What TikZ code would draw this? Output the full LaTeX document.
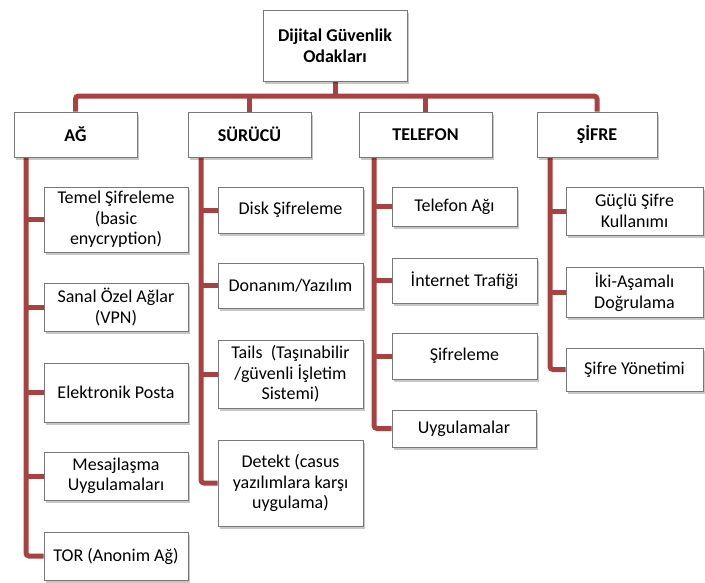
\documentclass[tikz,border=0pt]{standalone}
\usepackage{fontspec}
\setmainfont{Carlito}
\usetikzlibrary{shadows,backgrounds}
\definecolor{linkred}{RGB}{168,66,64}
\definecolor{boxgray}{RGB}{120,120,120}
\tikzset{
  box/.style={draw=boxgray, line width=0.8pt, fill=white, align=center, inner sep=1pt,
    font=\fontsize{18}{20.5}\selectfont,
    drop shadow={shadow xshift=2pt, shadow yshift=-2.5pt, fill=black, opacity=0.22}},
  headbox/.style={box, font=\fontsize{18}{20.5}\selectfont\bfseries},
  link/.style={draw=linkred, line width=5pt, rounded corners=3pt},
}
\begin{document}
\begin{tikzpicture}[x=1pt, y=-1pt]
\useasboundingbox (0,0) rectangle (705,582);
% root
\node[headbox, minimum width=144, minimum height=71] (root) at (335,45.5) {Dijital Güvenlik\\Odakları};
% level 1
\node[headbox, minimum width=123, minimum height=45] (ag) at (75.5,134.5) {AĞ};
\node[headbox, minimum width=123, minimum height=45] (surucu) at (249.5,134.5) {SÜRÜCÜ};
\node[headbox, minimum width=133, minimum height=45] (telefon) at (425.5,134.5) {TELEFON};
\node[headbox, minimum width=120, minimum height=45] (sifre) at (597,134.5) {ŞİFRE};
% AG children
\node[box, minimum width=144, minimum height=65] (temel) at (116,219.5) {Temel Şifreleme\\(basic\\enycryption)};
\node[box, minimum width=144, minimum height=48] (sanal) at (116,307) {Sanal Özel Ağlar\\(VPN)};
\node[box, minimum width=144, minimum height=59] (eposta) at (116,392.5) {Elektronik Posta};
\node[box, minimum width=144, minimum height=48] (mesaj) at (116,476) {Mesajlaşma\\Uygulamaları};
\node[box, minimum width=144, minimum height=48] (tor) at (116,556) {TOR (Anonim Ağ)};
% SURUCU children
\node[box, minimum width=145, minimum height=46] (disk) at (290.5,210) {Disk Şifreleme};
\node[box, minimum width=145, minimum height=45] (donanim) at (290.5,285.5) {Donanım/Yazılım};
\node[box, minimum width=145, minimum height=68] (tails) at (290.5,374) {Tails\ \ (Taşınabilir\\/güvenli İşletim\\Sistemi)};
\node[box, minimum width=145, minimum height=86] (detekt) at (290.5,483) {Detekt (casus\\yazılımlara karşı\\uygulama)};
% TELEFON children
\node[box, minimum width=125, minimum height=39] (telag) at (454.5,206.5) {Telefon Ağı};
\node[box, minimum width=145, minimum height=45] (internet) at (464.5,280.5) {İnternet Trafiği};
\node[box, minimum width=145, minimum height=46] (sifreleme) at (464.5,356) {Şifreleme};
\node[box, minimum width=144, minimum height=37] (uyg) at (464,428.5) {Uygulamalar};
% SIFRE children
\node[box, minimum width=137, minimum height=48] (guclu) at (634.5,211) {Güçlü Şifre\\Kullanımı};
\node[box, minimum width=137, minimum height=50] (iki) at (634.5,292) {İki-Aşamalı\\Doğrulama};
\node[box, minimum width=137, minimum height=43] (yonetim) at (634.5,369.5) {Şifre Yönetimi};
% connector guide coordinates
\coordinate (busY) at (0,96);
\coordinate (agX) at (26,0);
\coordinate (suX) at (201,0);
\coordinate (teX) at (374,0);
\coordinate (siX) at (550,0);
\begin{scope}[on background layer]
  \draw[link] (ag.north) -- (ag.north |- busY) -- (sifre.north |- busY) -- (sifre.north);
  \draw[link] (root.south) -- (root.south |- busY);
  \draw[link] (surucu.north) -- (surucu.north |- busY);
  \draw[link] (telefon.north) -- (telefon.north |- busY);
  % AG
  \draw[link] (ag.south -| agX) |- (tor.west);
  \draw[link] (agX |- temel.west) -- (temel.west);
  \draw[link] (agX |- sanal.west) -- (sanal.west);
  \draw[link] (agX |- eposta.west) -- (eposta.west);
  \draw[link] (agX |- mesaj.west) -- (mesaj.west);
  % SURUCU
  \draw[link] (surucu.south -| suX) |- (detekt.west);
  \draw[link] (suX |- disk.west) -- (disk.west);
  \draw[link] (suX |- donanim.west) -- (donanim.west);
  \draw[link] (suX |- tails.west) -- (tails.west);
  % TELEFON
  \draw[link] (telefon.south -| teX) |- (uyg.west);
  \draw[link] (teX |- telag.west) -- (telag.west);
  \draw[link] (teX |- internet.west) -- (internet.west);
  \draw[link] (teX |- sifreleme.west) -- (sifreleme.west);
  % SIFRE
  \draw[link] (sifre.south -| siX) |- (yonetim.west);
  \draw[link] (siX |- guclu.west) -- (guclu.west);
  \draw[link] (siX |- iki.west) -- (iki.west);
\end{scope}
\end{tikzpicture}
\end{document}
